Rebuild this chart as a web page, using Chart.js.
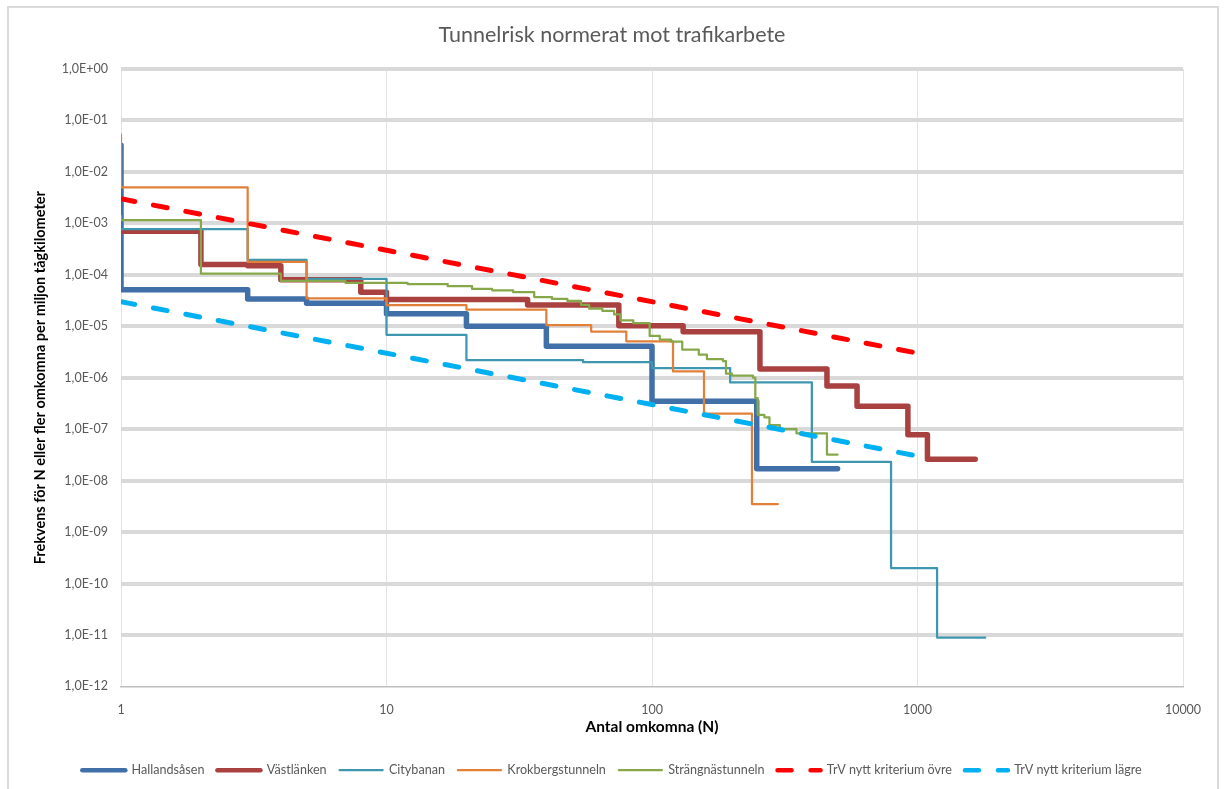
<!DOCTYPE html>
<html lang="sv">
<head>
  <meta charset="UTF-8" />
  <title>Tunnelrisk normerat mot trafikarbete</title>
  <script src="https://cdn.jsdelivr.net/npm/chart.js"></script>
  <style>
    html, body {
      margin: 0;
      padding: 0;
      background: #fff;
    }
    #wrap {
      width: 1224px;
      height: 789px;
    }
  </style>
</head>
<body>
  <div id="wrap"><canvas id="chart" width="1224" height="789"></canvas></div>

  <script>
    // axis ticks
    const xTicks = [1, 10, 100, 1000, 10000];
    const xTickLabels = ['1', '10', '100', '1000', '10000'];
    const yTicks = [1, 1e-1, 1e-2, 1e-3, 1e-4, 1e-5, 1e-6, 1e-7, 1e-8, 1e-9, 1e-10, 1e-11, 1e-12];
    const yTickLabels = ['1,0E+00', '1,0E-01', '1,0E-02', '1,0E-03', '1,0E-04', '1,0E-05', '1,0E-06',
                         '1,0E-07', '1,0E-08', '1,0E-09', '1,0E-10', '1,0E-11', '1,0E-12'];

    // each point: at N the curve steps to frequency F
    const hallandsasenN = [1, 1, 3, 5, 10, 20, 40, 100, 248, 500];
    const hallandsasenF = [3.3e-2, 5.1e-5, 3.4e-5, 2.8e-5, 1.74e-5, 1.0e-5, 4.1e-6, 3.5e-7, 1.7e-8, 1.7e-8];

    const vastlankenN = [1, 2, 3, 4, 8, 10, 34, 75, 131, 255, 456, 592, 920, 1090, 1650];
    const vastlankenF = [7e-4, 1.58e-4, 1.5e-4, 8e-5, 4.6e-5, 3.3e-5, 2.6e-5, 1.02e-5, 7.8e-6, 1.48e-6, 6.9e-7, 2.8e-7, 7.8e-8, 2.6e-8, 2.6e-8];

    const citybananN = [1, 3, 5, 10, 20, 55, 100, 197, 400, 795, 1185, 1800];
    const citybananF = [7.7e-4, 1.95e-4, 8.3e-5, 6.8e-6, 2.2e-6, 2.0e-6, 1.54e-6, 8.1e-7, 2.3e-8, 2.0e-10, 8.9e-12, 8.9e-12];

    const krokbergN = [1, 1, 3, 5, 10, 20, 40, 59, 80, 120, 157, 238, 298];
    const krokbergF = [5.3e-2, 5e-3, 1.78e-4, 3.5e-5, 2.57e-5, 2.1e-5, 1.05e-5, 7.9e-6, 5.1e-6, 1.32e-6, 2e-7, 3.5e-9, 3.5e-9];

    const strangnasN = [1, 1, 2, 4, 7, 12, 17, 21, 25, 30, 36, 42, 48, 54, 58, 65, 72, 76, 85, 98, 107, 118,
                        130, 150, 161, 185, 190, 200, 240, 245, 250, 265, 277, 303, 350, 456, 500];
    const strangnasF = [1.4e-3, 1.15e-3, 1.05e-4, 7.6e-5, 7.0e-5, 6.6e-5, 6.0e-5, 5.3e-5, 5.0e-5, 4.6e-5, 3.7e-5,
                        3.4e-5, 3.1e-5, 2.6e-5, 2.2e-5, 2.0e-5, 1.7e-5, 1.3e-5, 1.15e-5, 6.5e-6, 5.5e-6, 5.0e-6,
                        3.5e-6, 2.8e-6, 2.3e-6, 2.1e-6, 1.2e-6, 1.1e-6, 1.0e-6, 4e-7, 1.9e-7, 1.7e-7, 1.2e-7,
                        1.0e-7, 8.3e-8, 3.2e-8, 3.2e-8];

    const ovreN = [1, 1000];
    const ovreF = [3e-3, 3e-6];
    const lagreN = [1, 1000];
    const lagreF = [3e-5, 3e-8];

    const font = 'Lato, "Open Sans", sans-serif';
    const grey = '#595959';

    function pts(n, f) {
      return n.map((x, i) => ({ x: x, y: f[i] }));
    }

    function stepSet(label, n, f, color, width, order) {
      return {
        label: label,
        data: pts(n, f),
        showLine: true,
        stepped: true,
        borderColor: color,
        backgroundColor: color,
        borderWidth: width,
        borderJoinStyle: 'round',
        borderCapStyle: 'round',
        pointRadius: 0,
        order: order
      };
    }

    function dashSet(label, n, f, color, order) {
      return {
        label: label,
        data: pts(n, f),
        showLine: true,
        borderColor: color,
        backgroundColor: color,
        borderWidth: 5,
        borderDash: [14, 19],
        borderCapStyle: 'round',
        pointRadius: 0,
        order: order
      };
    }

    // outer frame like the Excel chart area
    const frame = {
      id: 'frame',
      beforeDraw(chart) {
        const ctx = chart.ctx;
        ctx.save();
        ctx.fillStyle = '#fff';
        ctx.fillRect(0, 0, chart.width, chart.height);
        ctx.strokeStyle = '#d9d9d9';
        ctx.lineWidth = 2;
        ctx.strokeRect(8, 7, 1210, 800);
        ctx.restore();
      }
    };

    const ctx = document.getElementById('chart').getContext('2d');
    new Chart(ctx, {
      type: 'scatter',
      data: {
        datasets: [
          stepSet('Hallandsåsen', hallandsasenN, hallandsasenF, '#4170a9', 5.5, 7),
          stepSet('Västlänken', vastlankenN, vastlankenF, '#a8413f', 5.5, 6),
          stepSet('Citybanan', citybananN, citybananF, '#3e96af', 2.25, 5),
          stepSet('Krokbergstunneln', krokbergN, krokbergF, '#e2803a', 2.25, 4),
          stepSet('Strängnästunneln', strangnasN, strangnasF, '#86a84a', 2.25, 3),
          dashSet('TrV nytt kriterium övre', ovreN, ovreF, '#ff0000', 2),
          dashSet('TrV nytt kriterium lägre', lagreN, lagreF, '#00b0f0', 1)
        ]
      },
      options: {
        responsive: false,
        animation: false,
        layout: { padding: { left: 0, right: 0, top: 0, bottom: 2.5 } },
        plugins: {
          title: {
            display: true,
            text: 'Tunnelrisk normerat mot trafikarbete',
            color: grey,
            font: { family: font, size: 21.5, weight: 'normal' },
            padding: { top: 22.1, bottom: 21.1 }
          },
          legend: {
            position: 'bottom',
            labels: {
              usePointStyle: true,
              pointStyle: 'line',
              pointStyleWidth: 43,
              padding: 13,
              color: grey,
              font: { family: font, size: 12.6 },
              sort: (a, b) => a.datasetIndex - b.datasetIndex,
              generateLabels: (chart) => {
                const items = Chart.defaults.plugins.legend.labels.generateLabels(chart);
                items.forEach(it => {
                  const ds = chart.data.datasets[it.datasetIndex];
                  it.strokeStyle = ds.borderColor;
                  it.lineWidth = Math.min(ds.borderWidth, 4.5);
                  it.lineDash = ds.borderDash || [];
                  it.lineCap = ds.borderCapStyle;
                });
                return items;
              }
            }
          },
          tooltip: { enabled: false }
        },
        scales: {
          x: {
            type: 'logarithmic',
            min: 1,
            max: 10000,
            afterBuildTicks: (scale) => { scale.ticks = xTicks.map(v => ({ value: v })); },
            afterFit: (scale) => {
              scale.height = 64.5;
              scale.paddingLeft = 0;
              scale.paddingRight = 41;
            },
            ticks: {
              color: grey,
              font: { family: font, size: 12.5 },
              padding: 16,
              maxRotation: 0,
              autoSkip: false,
              callback: (v) => xTickLabels[xTicks.indexOf(v)]
            },
            grid: { color: '#e3e3e3', lineWidth: 1, drawTicks: false },
            border: { display: true, color: '#bfbfbf', width: 1.5 },
            title: {
              display: true,
              text: 'Antal omkomna (N)',
              color: '#000',
              font: { family: font, size: 15.5, weight: 'bold' },
              padding: { top: 0, bottom: 14.2 }
            }
          },
          y: {
            type: 'logarithmic',
            min: 1e-12,
            max: 1,
            afterBuildTicks: (scale) => { scale.ticks = yTicks.slice().reverse().map(v => ({ value: v })); },
            afterFit: (scale) => {
              scale.width = 121;
              scale.paddingTop = 0;
              scale.paddingBottom = 0;
            },
            ticks: {
              color: grey,
              font: { family: font, size: 12.5 },
              padding: 13,
              autoSkip: false,
              callback: (v) => yTickLabels[Math.round(-Math.log10(v))]
            },
            grid: {
              color: '#d9d9d9',
              lineWidth: (c) => (c.tick && c.tick.value === 1e-12 ? 0 : 4),
              drawTicks: false
            },
            border: { display: false },
            title: {
              display: true,
              text: 'Frekvens för N eller fler omkomna per miljon tågkilometer',
              color: '#000',
              font: { family: font, size: 14.5, weight: 'bold' },
              padding: { top: 31.3, bottom: 0 }
            }
          }
        }
      },
      plugins: [frame]
    });
  </script>
</body>
</html>
